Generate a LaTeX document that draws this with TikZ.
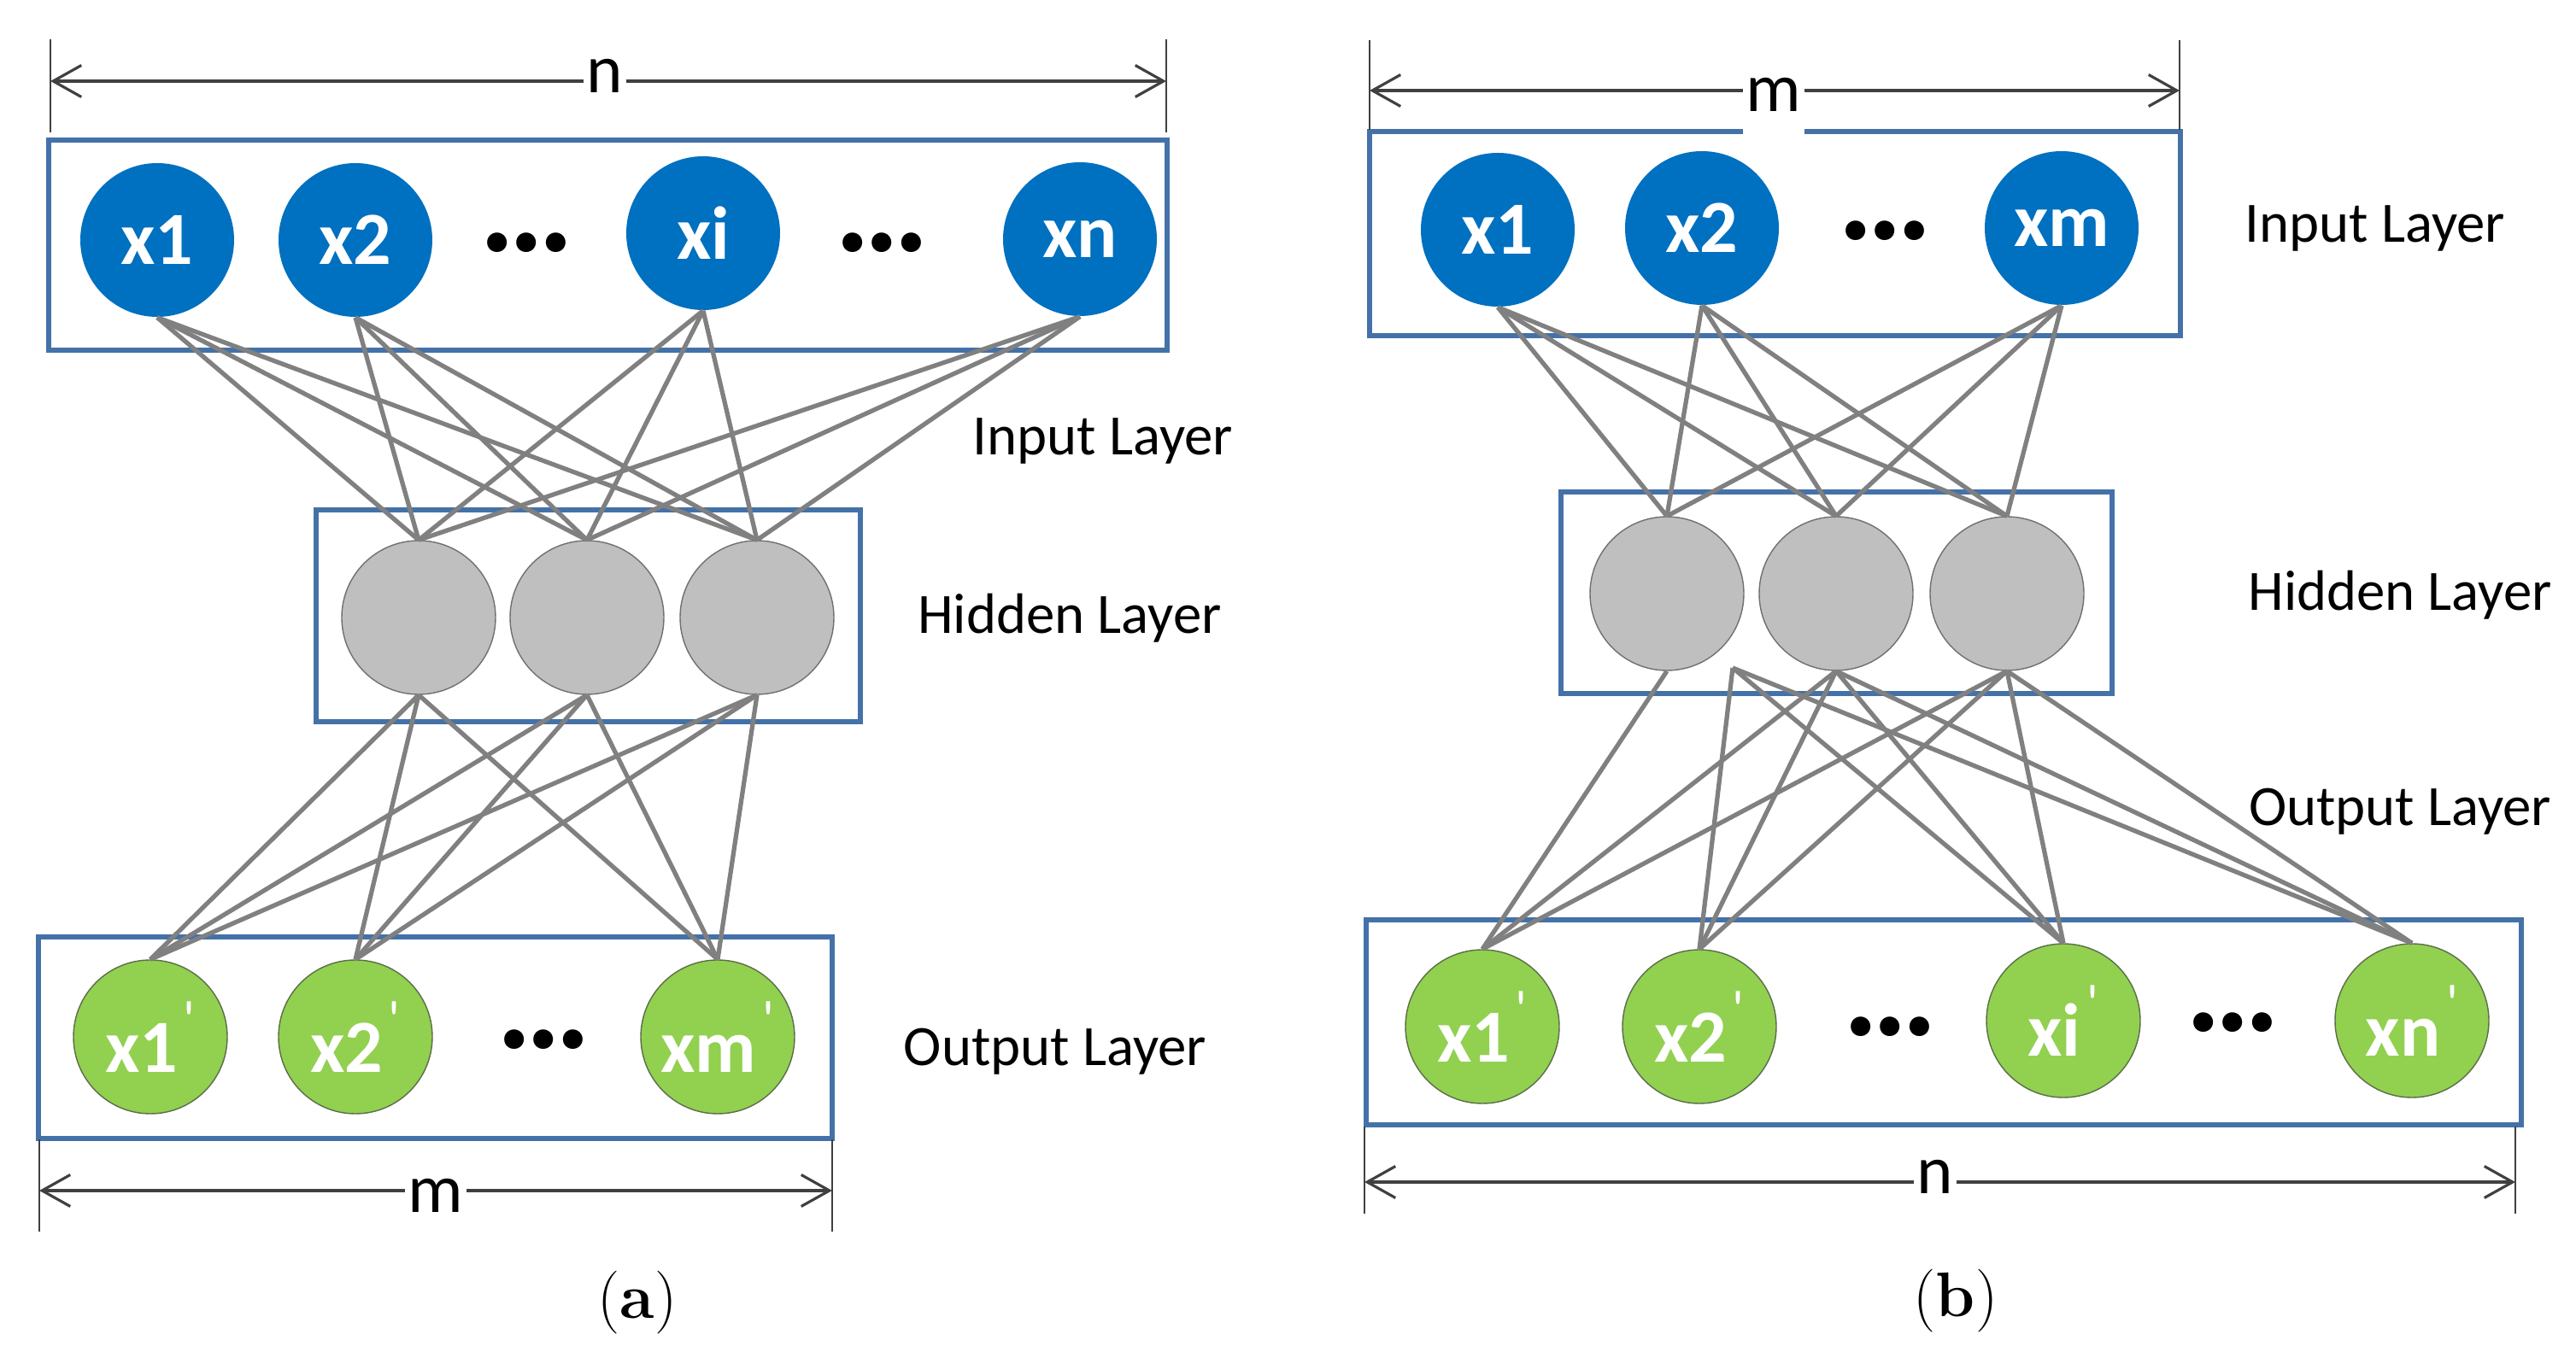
\documentclass[tikz,border=0pt]{standalone}
\usepackage{fontspec}
\usepackage{xcolor}
\usepackage{tikz}
\usetikzlibrary{arrows.meta,positioning}
\newfontfamily\calibri{Carlito}
\definecolor{inblue}{HTML}{0070C0}
\definecolor{hidgray}{HTML}{BFBFBF}
\definecolor{hidedge}{HTML}{707070}
\definecolor{outgreen}{HTML}{92D050}
\definecolor{outedge}{HTML}{5A6E48}
\definecolor{boxblue}{HTML}{4472A8}
\definecolor{linkgray}{HTML}{808080}
\definecolor{dimgray}{HTML}{404040}
\newcommand{\primed}[1]{#1\hspace{0.08em}\raisebox{0.45em}{\mdseries\fontsize{18}{18}\selectfont\textquotesingle}}

\begin{document}
\begin{tikzpicture}[every node/.style={font=\calibri, align=center}, neuron/.style={circle, minimum size=1.8cm, inner sep=0pt, text=white, font=\calibri\bfseries\fontsize{25}{29}\selectfont}, innode/.style={neuron, fill=inblue}, hidnode/.style={neuron, fill=hidgray, draw=hidedge, line width=0.4pt}, outnode/.style={neuron, fill=outgreen, draw=outedge, line width=0.4pt}, dotsnode/.style={inner sep=0pt, font=\calibri\bfseries\fontsize{44}{44}\selectfont}, layerbox/.style={rectangle, draw=boxblue, line width=1.7pt, inner sep=0pt}, layerlabel/.style={font=\calibri\fontsize{19}{23}\selectfont}, link/.style={draw=linkgray, line width=1.5pt}, dimline/.style={draw=dimgray, line width=0.9pt, {Straight Barb[length=3.3mm,width=3.7mm]}-{Straight Barb[length=3.3mm,width=3.7mm]}}, dimtick/.style={draw=dimgray, line width=0.6pt}, dimlabel/.style={fill=white, inner xsep=1pt, inner ysep=0pt, minimum height=0.95cm, font=\calibri\fontsize{23}{27}\selectfont}, caption/.style={font=\fontsize{21}{25}\selectfont}]
\useasboundingbox (0,0) rectangle (30.15,15.9);

% (a)
\node[layerbox, minimum width=13.09cm, minimum height=2.46cm] (a-inbox) at (7.115,13.03) {};
\node[layerbox, minimum width=6.37cm, minimum height=2.48cm] (a-hidbox) at (6.885,8.69) {};
\node[layerbox, minimum width=9.29cm, minimum height=2.36cm] (a-outbox) at (5.095,3.75) {};

\node[innode] (a-in1) at (1.84,13.09) {x1};
\node[innode] (a-in2) at (4.16,13.09) {x2};
\node[dotsnode] (a-indots1) at (6.17,13.06) {\dots};
\node[innode] (a-ini) at (8.23,13.17) {xi};
\node[dotsnode] (a-indots2) at (10.33,13.06) {\dots};
\node[innode] (a-inn) at (12.64,13.10) {xn};

\foreach \j/\x in {1/4.90,2/6.87,3/8.86}
  \node[hidnode] (a-hid\j) at (\x,8.67) {};

\node[outnode] (a-out1) at (1.76,3.76) {\primed{x1}};
\node[outnode] (a-out2) at (4.16,3.76) {\primed{x2}};
\node[dotsnode] (a-outdots) at (6.37,3.73) {\dots};
\node[outnode] (a-outm) at (8.40,3.76) {\primed{xm}};

\foreach \i in {1,2,i,n}
  \foreach \j in {1,2,3}
    \draw[link] (a-in\i.south) -- (a-hid\j.north);
\foreach \j in {1,2,3}
  \foreach \k in {1,2,m}
    \draw[link] (a-hid\j.south) -- (a-out\k.north);

\node[layerlabel] (a-inlabel) at (12.91,10.74) {Input Layer};
\node[layerlabel] (a-hidlabel) at (12.52,8.66) {Hidden Layer};
\node[layerlabel] (a-outlabel) at (12.35,3.59) {Output Layer};

\coordinate (a-topL) at (0.59,14.95);
\coordinate (a-topR) at (13.65,14.95);
\draw[dimtick] ([yshift=4.9mm]a-topL) -- ([yshift=-6mm]a-topL);
\draw[dimtick] ([yshift=4.9mm]a-topR) -- ([yshift=-6mm]a-topR);
\draw[dimline] (a-topL) -- (a-topR);
\node[dimlabel] (a-nlabel) at (7.08,15.01) {n};

\coordinate (a-botL) at (0.46,1.96);
\coordinate (a-botR) at (9.74,1.96);
\draw[dimtick] ([yshift=6mm]a-botL) -- ([yshift=-4.8mm]a-botL);
\draw[dimtick] ([yshift=6mm]a-botR) -- ([yshift=-4.8mm]a-botR);
\draw[dimline] (a-botL) -- (a-botR);
\node[dimlabel] (a-mlabel) at (5.10,1.90) {m};

\node[caption] (a-caption) at (7.46,0.65) {(\textbf{a})};

% (b)
\node[layerbox, minimum width=9.49cm, minimum height=2.39cm] (b-inbox) at (20.775,13.165) {};
\node[layerbox, minimum width=6.45cm, minimum height=2.36cm] (b-hidbox) at (21.495,8.96) {};
\node[layerbox, minimum width=13.52cm, minimum height=2.40cm] (b-outbox) at (22.75,3.93) {};

\node[innode] (b-in1) at (17.53,13.21) {x1};
\node[innode] (b-in2) at (19.92,13.23) {x2};
\node[dotsnode] (b-indots) at (22.06,13.20) {\dots};
\node[innode] (b-inm) at (24.13,13.23) {xm};

\foreach \j/\x in {1/19.51,2/21.49,3/23.49}
  \node[hidnode] (b-hid\j) at (\x,8.95) {};
\coordinate (b-hidoff) at (20.28,8.08);

\node[outnode] (b-out1) at (17.35,3.88) {\primed{x1}};
\node[outnode] (b-out2) at (19.89,3.88) {\primed{x2}};
\node[dotsnode] (b-outdots1) at (22.12,3.88) {\dots};
\node[outnode] (b-outi) at (24.15,3.95) {\primed{xi}};
\node[dotsnode] (b-outdots2) at (26.13,3.93) {\dots};
\node[outnode] (b-outn) at (28.23,3.95) {\primed{xn}};

\foreach \i in {1,2,m}
  \foreach \j in {1,2,3}
    \draw[link] (b-in\i.south) -- (b-hid\j.north);
\draw[link] (b-hid1.south) -- (b-out1.north);
\foreach \k in {2,i,n}
  \draw[link] (b-hidoff) -- (b-out\k.north);
\foreach \j in {2,3}
  \foreach \k in {1,2,i,n}
    \draw[link] (b-hid\j.south) -- (b-out\k.north);

\node[layerlabel] (b-inlabel) at (27.80,13.23) {Input Layer};
\node[layerlabel] (b-hidlabel) at (28.09,8.93) {Hidden Layer};
\node[layerlabel] (b-outlabel) at (28.09,6.40) {Output Layer};

\coordinate (b-topL) at (16.03,14.84);
\coordinate (b-topR) at (25.51,14.84);
\draw[dimtick] ([yshift=5.9mm]b-topL) -- ([yshift=-4.6mm]b-topL);
\draw[dimtick] ([yshift=5.9mm]b-topR) -- ([yshift=-4.6mm]b-topR);
\draw[dimline] (b-topL) -- (b-topR);
\node[dimlabel] (b-mlabel) at (20.76,14.79) {m};

\coordinate (b-botL) at (15.97,2.06);
\coordinate (b-botR) at (29.44,2.06);
\draw[dimtick] ([yshift=6.5mm]b-botL) -- ([yshift=-3.7mm]b-botL);
\draw[dimtick] ([yshift=6.5mm]b-botR) -- ([yshift=-3.7mm]b-botR);
\draw[dimline] (b-botL) -- (b-botR);
\node[dimlabel] (b-nlabel) at (22.65,2.12) {n};

\node[caption] (b-caption) at (22.89,0.67) {(\textbf{b})};
\end{tikzpicture}
\end{document}
